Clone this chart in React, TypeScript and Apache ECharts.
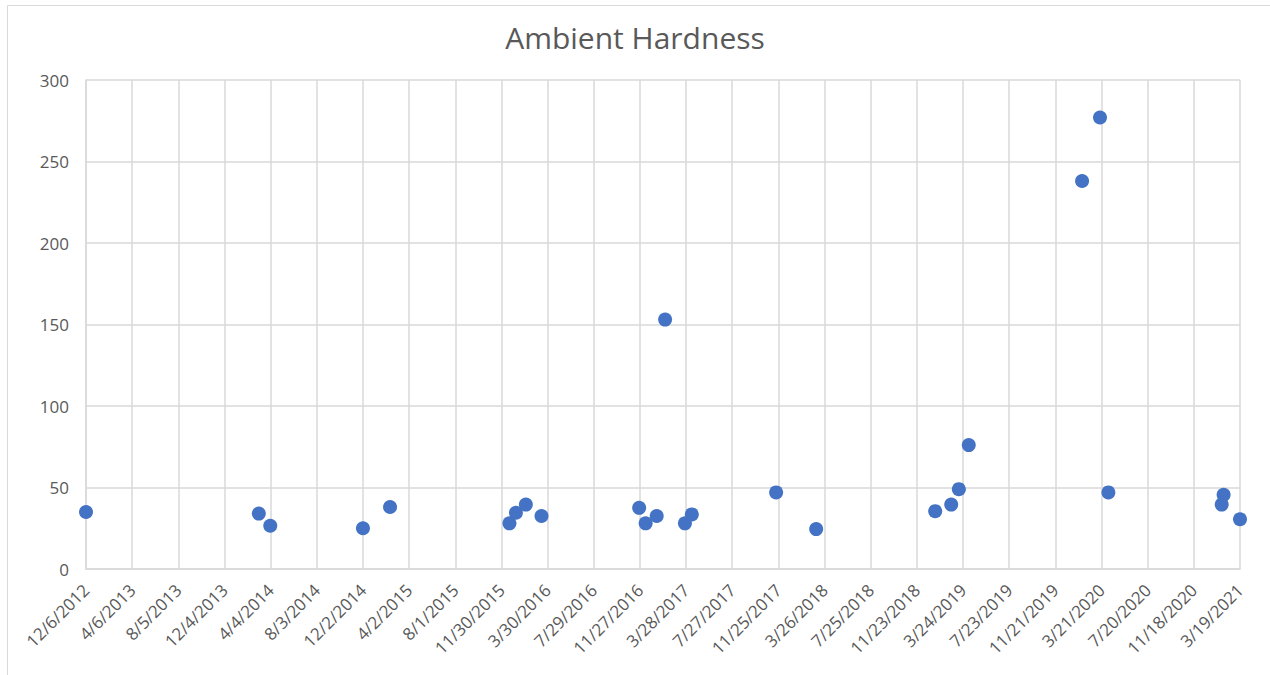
import React, { useEffect, useRef } from "react";
import * as echarts from "echarts";

const chartTitle = "Ambient Hardness";
const startDate = "2012-12-06";
const tickStepDays = 121;
const tickCount = 25;
const yTicks = [0, 50, 100, 150, 200, 250, 300];

const sampleDates = [
  "2012-12-06", "2014-03-04", "2014-04-03", "2014-12-02", "2015-02-11",
  "2015-12-21", "2016-01-07", "2016-02-02", "2016-03-14", "2016-11-25",
  "2016-12-12", "2017-01-10", "2017-02-01", "2017-03-25", "2017-04-12",
  "2017-11-19", "2018-03-04", "2019-01-10", "2019-02-21", "2019-03-13",
  "2019-04-08", "2020-01-30", "2020-03-17", "2020-04-08", "2021-01-30",
  "2021-02-04", "2021-03-19",
];
const hardnessValues = [
  35, 34, 26.5, 25, 38,
  28, 34.5, 39.5, 32.5, 37.5,
  28, 32.5, 153, 28, 33.5,
  47, 24.5, 35.5, 39.5, 49,
  76, 238, 277, 47, 39.5,
  45.5, 30.5,
];

const DAY = 86400000;
const toUTC = (s: string) => {
  const [y, m, d] = s.split("-").map(Number);
  return Date.UTC(y, m - 1, d);
};
const base = toUTC(startDate);
const dayOffset = (s: string) => Math.round((toUTC(s) - base) / DAY);
const fmt = (off: number) => {
  const d = new Date(base + off * DAY);
  return `${d.getUTCMonth() + 1}/${d.getUTCDate()}/${d.getUTCFullYear()}`;
};

export default function App() {
  const ref = useRef<HTMLDivElement>(null);
  useEffect(() => {
    if (!ref.current) return;
    const chart = echarts.init(ref.current, undefined, { renderer: "svg" });
    const font = "'Open Sans', 'Noto Sans', sans-serif";
    chart.setOption({
      animation: false,
      backgroundColor: "#ffffff",
      title: {
        text: chartTitle,
        left: "center",
        top: 17,
        textStyle: { fontFamily: font, fontSize: 30, fontWeight: "normal", color: "#595959" },
      },
      graphic: [
        {
          type: "rect",
          shape: { x: 7.5, y: 5.5, width: 1300, height: 700 },
          style: { fill: "none", stroke: "#d9d9d9", lineWidth: 1 },
          silent: true,
          z: -1,
        },
      ],
      grid: { left: 86, right: 30, top: 80, bottom: 106, containLabel: false },
      xAxis: {
        type: "value",
        min: 0,
        max: tickStepDays * tickCount,
        interval: tickStepDays,
        axisLine: { show: true, lineStyle: { color: "#d9d9d9", width: 1.5 } },
        axisTick: { show: false },
        splitLine: { show: true, lineStyle: { color: "#d9d9d9", width: 1.5 } },
        axisLabel: {
          rotate: 45,
          formatter: (v: number) => fmt(v),
          fontFamily: font,
          fontSize: 17,
          color: "#595959",
          margin: 18,
          showMinLabel: true,
          showMaxLabel: true,
        },
      },
      yAxis: {
        type: "value",
        min: yTicks[0],
        max: yTicks[yTicks.length - 1],
        interval: 50,
        axisLine: { show: true, lineStyle: { color: "#d9d9d9", width: 1.5 } },
        axisTick: { show: false },
        splitLine: { show: true, lineStyle: { color: "#d9d9d9", width: 1.5 } },
        axisLabel: { fontFamily: font, fontSize: 17, color: "#595959", margin: 17 },
      },
      series: [
        {
          type: "scatter",
          symbol: "circle",
          symbolSize: 14,
          itemStyle: { color: "#4472C4", opacity: 1 },
          data: sampleDates.map((d, i) => [dayOffset(d), hardnessValues[i]]),
        },
      ],
    });
    return () => chart.dispose();
  }, []);
  return (
    <div
      ref={ref}
      style={{ position: "fixed", left: 0, top: 0, width: 1270, height: 675 }}
    />
  );
}
